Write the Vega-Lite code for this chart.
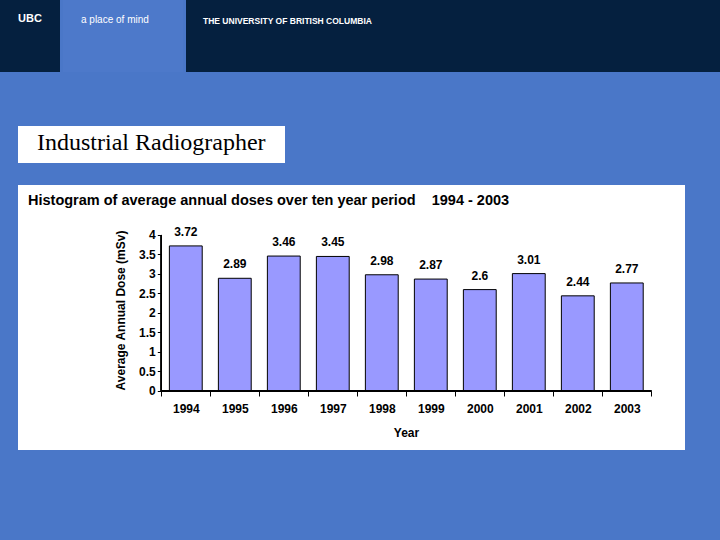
{
  "$schema": "https://vega.github.io/schema/vega-lite/v6.json",
  "background": "#4A77C8",
  "padding": 0,
  "spacing": 22,
  "config": {
    "view": {"stroke": null},
    "font": "Liberation Sans",
    "title": {"anchor": "start", "frame": "group"}
  },
  "vconcat": [
    {
      "spacing": 3,
      "hconcat": [
        {
          "width": 60, "height": 72,
          "view": {"fill": "#05203F", "stroke": null},
          "data": {"values": []},
          "mark": "point",
          "title": {"text": "UBC", "color": "white", "fontSize": 11, "fontWeight": "bold", "dx": 18, "offset": -24}
        },
        {
          "width": 120, "height": 72,
          "view": {"fill": "#4D79CA", "stroke": null},
          "data": {"values": []},
          "mark": "point",
          "title": {"text": "a place of mind", "color": "white", "fontSize": 10, "fontWeight": "normal", "dx": 18, "offset": -25}
        },
        {
          "width": 534, "height": 72,
          "view": {"fill": "#05203F", "stroke": null},
          "data": {"values": []},
          "mark": "point",
          "title": {"text": "THE UNIVERSITY OF BRITISH COLUMBIA", "color": "white", "fontSize": 8.5, "fontWeight": "bold", "dx": 17, "offset": -25}
        }
      ]
    },
    {
      "width": 720, "height": 10,
      "data": {"values": []},
      "mark": "point"
    },
    {
      "spacing": 0,
      "hconcat": [
        {"width": 18, "height": 37, "data": {"values": []}, "mark": "point"},
        {
          "width": 267, "height": 37,
          "view": {"fill": "white", "stroke": null},
          "data": {"values": []},
          "mark": "point",
          "title": {"text": "Industrial Radiographer", "font": "Liberation Serif", "color": "black", "fontSize": 24, "fontWeight": "normal", "dx": 19, "offset": -29}
        }
      ]
    },
    {
      "spacing": 0,
      "hconcat": [
        {"width": 18, "height": 265, "data": {"values": []}, "mark": "point"},
        {
          "width": 667, "height": 265,
          "view": {"fill": "white", "stroke": null},
          "data": {"values": [
            {"Year": 1994, "Dose": 3.72},
            {"Year": 1995, "Dose": 2.89},
            {"Year": 1996, "Dose": 3.46},
            {"Year": 1997, "Dose": 3.45},
            {"Year": 1998, "Dose": 2.98},
            {"Year": 1999, "Dose": 2.87},
            {"Year": 2000, "Dose": 2.6},
            {"Year": 2001, "Dose": 3.01},
            {"Year": 2002, "Dose": 2.44},
            {"Year": 2003, "Dose": 2.77}
          ]},
          "title": {"text": "Histogram of average annual doses over ten year period\u00a0\u00a0\u00a0\u00a01994 - 2003", "color": "black", "fontSize": 14.5, "fontWeight": "bold", "dx": 10, "offset": -23},
          "encoding": {
            "x": {
              "field": "Year", "type": "ordinal",
              "scale": {"range": [143.3, 633.3], "paddingInner": 0, "paddingOuter": 0, "round": false},
              "axis": {
                "offset": -59, "domain": false, "grid": false, "tickBand": "extent",
                "tickColor": "black", "tickSize": 5, "labelAngle": 0,
                "labelFontSize": 12, "labelFontWeight": "bold", "labelColor": "black", "labelPadding": 7,
                "title": "Year", "titleFontSize": 12, "titleFontWeight": "bold", "titleColor": "black",
                "titleX": 388, "titleY": 41, "titleAlign": "center", "titleBaseline": "middle"
              }
            },
            "y": {
              "field": "Dose", "type": "quantitative",
              "scale": {"domain": [-1.513, 5.282], "nice": false, "zero": false},
              "axis": {
                "values": [0, 0.5, 1, 1.5, 2, 2.5, 3, 3.5, 4], "format": ".2~g",
                "offset": -143.3, "domain": false, "grid": false, "labelOverlap": false,
                "tickColor": "black", "tickSize": 4,
                "labelFontSize": 12, "labelFontWeight": "bold", "labelColor": "black", "labelPadding": 2,
                "title": "Average Annual Dose (mSv)", "titleFontSize": 12, "titleFontWeight": "bold", "titleColor": "black",
                "titleX": -41, "titleY": 125, "titleAngle": -90, "titleAlign": "center", "titleBaseline": "middle"
              }
            }
          },
          "layer": [
            {
              "mark": {"type": "bar", "fill": "#9999FF", "stroke": "#000000", "strokeWidth": 1, "width": {"band": 0.67}},
              "encoding": {
                "y2": {"datum": 0}
              }
            },
            {
              "mark": {"type": "text", "dy": -14, "baseline": "middle", "fontSize": 12, "fontWeight": "bold", "color": "black"},
              "encoding": {
                "text": {"field": "Dose", "type": "quantitative"}
              }
            },
            {
              "mark": {"type": "rule", "color": "black", "strokeWidth": 1},
              "encoding": {
                "x": {"datum": 1994, "type": "ordinal", "bandPosition": 0},
                "y": {"datum": 0},
                "y2": {"datum": 4}
              }
            },
            {
              "mark": {"type": "rule", "color": "black", "strokeWidth": 1},
              "encoding": {
                "x": {"datum": 1994, "type": "ordinal", "bandPosition": 0},
                "x2": {"datum": 2003, "bandPosition": 1},
                "y": {"datum": 0}
              }
            }
          ]
        }
      ]
    },
    {
      "width": 720, "height": 68,
      "data": {"values": []},
      "mark": "point"
    }
  ]
}
